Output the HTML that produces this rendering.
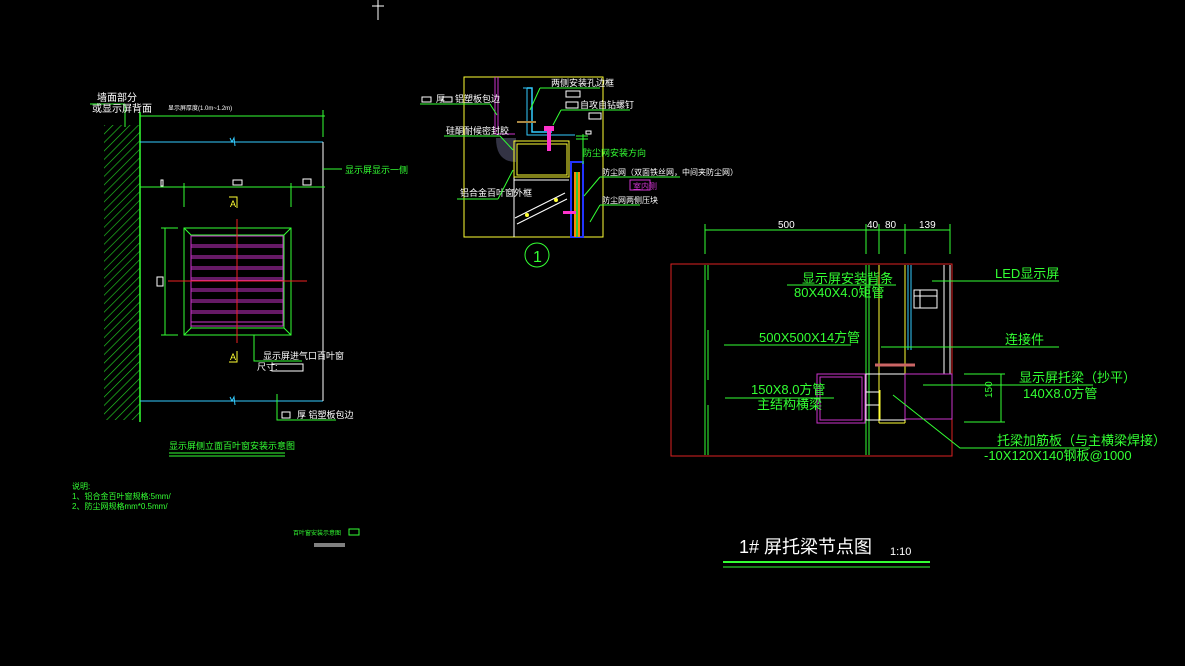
<!DOCTYPE html>
<html><head><meta charset="utf-8"><style>
html,body{margin:0;padding:0;background:#000;width:1185px;height:666px;overflow:hidden}
svg{display:block}
text{font-family:"Liberation Sans","Noto Sans CJK SC",sans-serif}
.w{fill:#fff}.g{fill:#3f3}
</style></head><body>
<svg width="1185" height="666" viewBox="0 0 1185 666" xmlns="http://www.w3.org/2000/svg">
<defs>
<pattern id="h" width="6" height="6" patternUnits="userSpaceOnUse" patternTransform="rotate(45)">
<line x1="0" y1="0" x2="0" y2="6" stroke="#2c2" stroke-width="1.3"/></pattern>
</defs>
<!-- top marker -->
<line x1="378" y1="0" x2="378" y2="20" stroke="#fff"/><line x1="372" y1="6" x2="384" y2="6" stroke="#fff"/>

<!-- LEFT DRAWING -->
<rect x="104" y="125" width="36" height="295" fill="url(#h)"/>
<line x1="140" y1="112" x2="140" y2="422" stroke="#3f3" stroke-width="1.5"/>
<line x1="90" y1="104" x2="125" y2="104" stroke="#3f3"/><line x1="125" y1="104" x2="125" y2="127" stroke="#3f3"/>
<text x="97" y="101" class="w" font-size="10">墙面部分</text>
<text x="92" y="112" class="w" font-size="10">或显示屏背面</text>
<text x="168" y="110" class="w" font-size="6">显示屏厚度(1.0m~1.2m)</text>
<line x1="140" y1="116" x2="325" y2="116" stroke="#3f3"/>
<line x1="323" y1="110" x2="323" y2="137" stroke="#3f3"/>
<line x1="140" y1="142" x2="323" y2="142" stroke="#3cf"/>
<line x1="140" y1="401" x2="323" y2="401" stroke="#3cf"/>
<path d="M230 138 l2 4 l2 -4 l1 8" stroke="#3cf" fill="none"/>
<path d="M230 397 l2 4 l2 -4 l1 8" stroke="#3cf" fill="none"/>
<line x1="323" y1="142" x2="323" y2="401" stroke="#fff"/>
<line x1="323" y1="169" x2="342" y2="169" stroke="#3f3"/>
<text x="345" y="173" class="g" font-size="9">显示屏显示一侧</text>
<line x1="140" y1="187" x2="325" y2="187" stroke="#3f3"/>
<line x1="184" y1="183" x2="184" y2="207" stroke="#3f3"/><line x1="291" y1="183" x2="291" y2="207" stroke="#3f3"/>
<rect x="161" y="180" width="2" height="6" fill="none" stroke="#fff"/>
<rect x="233" y="180" width="9" height="5" fill="none" stroke="#fff"/>
<rect x="303" y="179" width="8" height="6" fill="none" stroke="#fff"/>
<text x="230" y="207" fill="#ff3" font-size="9">A</text><path d="M229 197h8v11" stroke="#ff3" fill="none"/>
<text x="230" y="360" fill="#ff3" font-size="9">A</text><path d="M229 362h8v-11" stroke="#ff3" fill="none"/>
<rect x="184" y="228" width="107" height="107" fill="none" stroke="#3f3"/>
<rect x="191" y="235" width="93" height="93" fill="none" stroke="#3f3"/>
<path d="M184 228l7 7M291 228l-7 7M184 335l7-7M291 335l-7-7" stroke="#3f3"/>
<g stroke="#c3c" fill="none">
<rect x="191" y="236" width="92" height="90"/>
<path d="M191 245h92M191 247h92M191 256h92M191 258h92M191 267h92M191 269h92M191 278h92M191 280h92M191 289h92M191 291h92M191 300h92M191 302h92M191 311h92M191 313h92M191 322h92"/>
</g>
<line x1="237" y1="219" x2="237" y2="343" stroke="#e22"/>
<line x1="168" y1="281" x2="307" y2="281" stroke="#e22"/>
<line x1="165" y1="228" x2="165" y2="335" stroke="#3f3"/>
<line x1="161" y1="228" x2="178" y2="228" stroke="#3f3"/><line x1="161" y1="335" x2="178" y2="335" stroke="#3f3"/>
<rect x="157" y="277" width="6" height="9" fill="none" stroke="#fff"/>
<path d="M254 335v26h48" stroke="#3f3" fill="none"/>
<text x="263" y="359" class="w" font-size="9">显示屏进气口百叶窗</text>
<text x="257" y="370" class="w" font-size="9">尺寸:</text>
<rect x="272" y="364" width="31" height="7" fill="none" stroke="#fff"/>
<path d="M277 394v26h59" stroke="#3f3" fill="none"/>
<rect x="282" y="412" width="8" height="6" fill="none" stroke="#fff"/>
<text x="297" y="418" class="w" font-size="9">厚 铝塑板包边</text>
<text x="169" y="449" class="g" font-size="9">显示屏侧立面百叶窗安装示意图</text>
<line x1="169" y1="453" x2="285" y2="453" stroke="#3f3"/><line x1="169" y1="456" x2="285" y2="456" stroke="#3f3"/>
<text x="72" y="489" class="g" font-size="8">说明:</text>
<text x="72" y="499" class="g" font-size="8">1、铝合金百叶窗规格:5mm/</text>
<text x="72" y="509" class="g" font-size="8">2、防尘网规格mm*0.5mm/</text>
<text x="293" y="535" class="g" font-size="6">百叶窗安装示意图</text>
<rect x="349" y="529" width="10" height="6" fill="none" stroke="#3f3"/>
<line x1="314" y1="544" x2="345" y2="544" stroke="#fff"/><line x1="314" y1="546" x2="345" y2="546" stroke="#fff"/>

<!-- MIDDLE DETAIL -->
<rect x="464" y="77" width="139" height="160" fill="none" stroke="#ff3"/>
<line x1="514" y1="148" x2="514" y2="237" stroke="#fff"/>
<path d="M495 77v57h20" stroke="#c3c" fill="none"/><path d="M498 77v54" stroke="#c3c"/>
<path d="M496 138 q0 24 20 24 v-24z" fill="#334"/>
<path d="M527 88h5v44h20" stroke="#3cf" fill="none" stroke-width="1.5"/>
<path d="M523 88h4v47h48" stroke="#3cf" fill="none"/>
<line x1="517" y1="122" x2="536" y2="122" stroke="#a84" stroke-width="2"/>
<rect x="514" y="141" width="55" height="36" fill="none" stroke="#ff3"/>
<rect x="517" y="144" width="50" height="31" fill="none" stroke="#ff3"/>
<line x1="514" y1="180" x2="569" y2="180" stroke="#fff"/>
<rect x="547" y="127" width="4" height="24" fill="#f3c"/>
<rect x="544" y="126" width="10" height="5" fill="#f3c"/>
<rect x="571" y="162" width="12" height="75" fill="none" stroke="#23f" stroke-width="2"/>
<rect x="574" y="172" width="6" height="65" fill="#f80"/>
<rect x="576" y="172" width="2" height="65" fill="#3c3"/>
<rect x="563" y="211" width="13" height="3" fill="#f3c"/>
<path d="M515 218l50-25M517 224l50-25" stroke="#fff" fill="none"/>
<circle cx="527" cy="215" r="2" fill="#ff3"/><circle cx="556" cy="200" r="2" fill="#ff3"/>
<path d="M576 136h12M576 139h12M583 134v30" stroke="#3f3"/>
<rect x="586" y="131" width="5" height="3" fill="none" stroke="#fff"/>
<circle cx="537" cy="255" r="12" fill="none" stroke="#3f3"/>
<text x="533" y="262" class="g" font-size="16">1</text>
<rect x="422" y="97" width="9" height="5" fill="none" stroke="#fff"/>
<text x="436" y="102" class="w" font-size="9">厚</text><rect x="443" y="97" width="9" height="5" fill="none" stroke="#fff"/>
<text x="455" y="102" class="w" font-size="9">铝塑板包边</text>
<line x1="420" y1="104" x2="490" y2="104" stroke="#3f3"/><line x1="490" y1="104" x2="497" y2="115" stroke="#3f3"/>
<text x="551" y="86" class="w" font-size="9">两侧安装孔边框</text>
<line x1="540" y1="88" x2="600" y2="88" stroke="#3f3"/><line x1="540" y1="88" x2="530" y2="110" stroke="#3f3"/>
<rect x="566" y="91" width="14" height="6" fill="none" stroke="#fff"/>
<rect x="566" y="102" width="12" height="6" fill="none" stroke="#fff"/>
<text x="580" y="108" class="w" font-size="9">自攻自钻螺钉</text>
<line x1="561" y1="110" x2="630" y2="110" stroke="#3f3"/><line x1="561" y1="110" x2="553" y2="125" stroke="#3f3"/>
<rect x="589" y="113" width="12" height="6" fill="none" stroke="#fff"/>
<text x="446" y="134" class="w" font-size="9">硅酮耐候密封胶</text>
<line x1="444" y1="136" x2="500" y2="136" stroke="#3f3"/><line x1="500" y1="136" x2="513" y2="150" stroke="#3f3"/>
<text x="583" y="156" class="g" font-size="9">防尘网安装方向</text>
<text x="602" y="175" class="w" font-size="8">防尘网（双面铁丝网，中间夹防尘网）</text>
<line x1="600" y1="177" x2="680" y2="177" stroke="#3f3"/><line x1="600" y1="177" x2="584" y2="196" stroke="#3f3"/>
<rect x="630" y="180" width="20" height="10" fill="none" stroke="#c3c"/>
<text x="633" y="189" fill="#c3c" font-size="8">室内侧</text>
<text x="602" y="203" class="w" font-size="8">防尘网两侧压块</text>
<line x1="600" y1="205" x2="640" y2="205" stroke="#3f3"/><line x1="600" y1="205" x2="590" y2="222" stroke="#3f3"/>
<text x="460" y="196" class="w" font-size="9">铝合金百叶窗外框</text>
<line x1="457" y1="199" x2="498" y2="199" stroke="#3f3"/><line x1="498" y1="199" x2="513" y2="170" stroke="#3f3"/>

<!-- RIGHT DETAIL -->
<line x1="705" y1="230" x2="950" y2="230" stroke="#3f3"/>
<g stroke="#3f3"><line x1="705" y1="224" x2="705" y2="254"/><line x1="866" y1="224" x2="866" y2="254"/><line x1="879" y1="224" x2="879" y2="254"/><line x1="905" y1="224" x2="905" y2="254"/><line x1="950" y1="224" x2="950" y2="254"/></g>
<text x="778" y="228" class="w" font-size="10">500</text>
<text x="867" y="228" class="w" font-size="10">40</text>
<text x="885" y="228" class="w" font-size="10">80</text>
<text x="919" y="228" class="w" font-size="10">139</text>
<rect x="671" y="264" width="281" height="192" fill="none" stroke="#d22"/>
<g stroke="#3f3"><line x1="705" y1="265" x2="705" y2="455"/><line x1="708" y1="265" x2="708" y2="280"/><line x1="708" y1="330" x2="708" y2="380"/><line x1="708" y1="405" x2="708" y2="455"/><line x1="866" y1="265" x2="866" y2="455"/><line x1="869" y1="265" x2="869" y2="455"/></g>
<g stroke="#ff3"><line x1="879" y1="265" x2="879" y2="423"/><line x1="905" y1="265" x2="905" y2="423"/><line x1="879" y1="423" x2="905" y2="423"/><line x1="880" y1="390" x2="880" y2="420"/></g>
<g stroke="#3cf"><line x1="908" y1="265" x2="908" y2="350"/><line x1="911" y1="265" x2="911" y2="350"/></g>
<g stroke="#fff"><line x1="944" y1="265" x2="944" y2="374"/><line x1="950" y1="265" x2="950" y2="374"/>
<rect x="914" y="290" width="23" height="18" fill="none"/><line x1="914" y1="296" x2="937" y2="296"/><line x1="920" y1="290" x2="920" y2="308"/>
<rect x="866" y="374" width="39" height="46" fill="none"/><line x1="866" y1="392" x2="879" y2="392"/><line x1="866" y1="405" x2="879" y2="405"/></g>
<line x1="875" y1="365" x2="915" y2="365" stroke="#c66" stroke-width="3"/>
<rect x="817" y="374" width="48" height="49" fill="none" stroke="#c3c"/>
<rect x="820" y="377" width="42" height="43" fill="none" stroke="#c3c"/>
<rect x="905" y="374" width="47" height="45" fill="none" stroke="#c3c"/>
<g stroke="#3f3" fill="none">
<line x1="787" y1="285" x2="896" y2="285"/><line x1="932" y1="281" x2="1059" y2="281"/>
<line x1="724" y1="345" x2="851" y2="345"/><line x1="881" y1="347" x2="1059" y2="347"/>
<line x1="725" y1="398" x2="834" y2="398"/><line x1="923" y1="385" x2="1093" y2="385"/>
<path d="M893 395 L960 448 H1090"/>
<line x1="964" y1="374" x2="1005" y2="374"/><line x1="964" y1="422" x2="1005" y2="422"/><line x1="1001" y1="374" x2="1001" y2="422"/>
</g>
<g class="g" font-size="13">
<text x="802" y="283">显示屏安装背条</text>
<text x="794" y="297">80X40X4.0矩管</text>
<text x="759" y="342">500X500X14方管</text>
<text x="751" y="394">150X8.0方管</text>
<text x="757" y="409">主结构横梁</text>
<text x="995" y="278">LED显示屏</text>
<text x="1005" y="344">连接件</text>
<text x="1019" y="382">显示屏托梁（抄平）</text>
<text x="1023" y="398">140X8.0方管</text>
<text x="997" y="445">托梁加筋板（与主横梁焊接）</text>
<text x="984" y="460">-10X120X140钢板@1000</text>
<text transform="translate(992,398) rotate(-90)" font-size="10">150</text>
</g>
<text x="739" y="553" class="w" font-size="18">1# 屏托梁节点图</text>
<text x="890" y="555" class="w" font-size="11">1:10</text>
<line x1="723" y1="562" x2="930" y2="562" stroke="#3f3" stroke-width="2"/>
<line x1="723" y1="567" x2="930" y2="567" stroke="#3f3"/>
</svg>
</body></html>
